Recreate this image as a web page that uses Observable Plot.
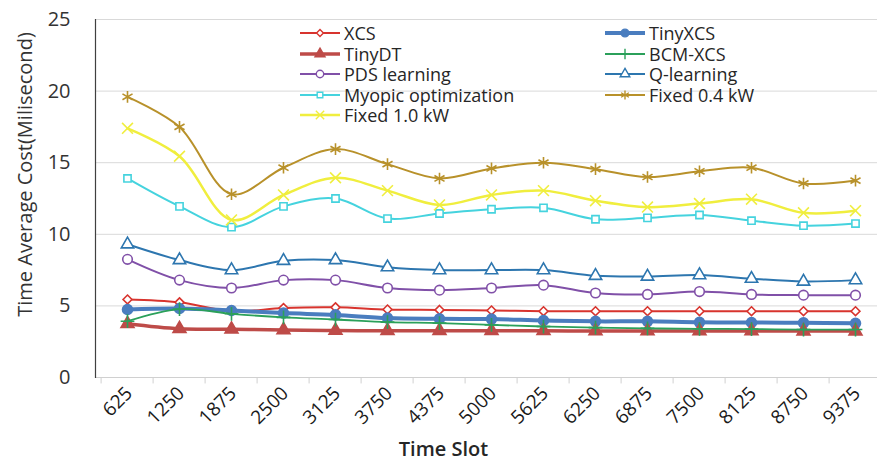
<!DOCTYPE html>
<html>
<head>
<meta charset="utf-8">
<script src="https://cdn.jsdelivr.net/npm/d3@7"></script>
<script src="https://cdn.jsdelivr.net/npm/@observablehq/plot@0.6"></script>
<style>
  html, body { margin: 0; padding: 0; background: #fff; }
  #wrap { position: relative; width: 877px; height: 463px; font-family: "Open Sans", sans-serif; }
  #legend { position: absolute; left: 0; top: 0; pointer-events: none; }
  .item { position: absolute; display: flex; align-items: center; font-size: 18px; line-height: 20px; color: #262626; white-space: nowrap; height: 20px; }
  .item svg { margin-right: 2px; flex: none; }
</style>
</head>
<body>
<div id="wrap"><div id="legend"></div></div>
<script>
const timeSlots = [625, 1250, 1875, 2500, 3125, 3750, 4375, 5000, 5625, 6250, 6875, 7500, 8125, 8750, 9375];
const seriesNames = ["XCS", "TinyXCS", "TinyDT", "BCM-XCS", "PDS learning", "Q-learning", "Myopic optimization", "Fixed 0.4 kW", "Fixed 1.0 kW"];
const xcs       = [5.45, 5.25, 4.63, 4.85, 4.9, 4.75, 4.72, 4.68, 4.63, 4.63, 4.63, 4.63, 4.63, 4.63, 4.63];
const tinyXcs   = [4.75, 4.82, 4.68, 4.5, 4.37, 4.15, 4.1, 4.08, 3.98, 3.92, 3.92, 3.85, 3.84, 3.82, 3.78];
const tinyDt    = [3.75, 3.4, 3.37, 3.32, 3.28, 3.27, 3.27, 3.27, 3.26, 3.25, 3.25, 3.25, 3.25, 3.24, 3.24];
const bcmXcs    = [3.93, 4.78, 4.45, 4.2, 4.05, 3.87, 3.8, 3.67, 3.56, 3.48, 3.43, 3.4, 3.38, 3.35, 3.35];
const pds       = [8.25, 6.8, 6.25, 6.8, 6.8, 6.25, 6.1, 6.25, 6.45, 5.9, 5.8, 6.0, 5.8, 5.75, 5.75];
const qLearning = [9.3, 8.2, 7.5, 8.15, 8.2, 7.7, 7.5, 7.5, 7.5, 7.1, 7.05, 7.15, 6.9, 6.7, 6.8];
const myopic    = [13.9, 11.95, 10.5, 11.95, 12.5, 11.1, 11.45, 11.75, 11.85, 11.05, 11.15, 11.35, 10.95, 10.6, 10.75];
const fixed04   = [19.6, 17.5, 12.8, 14.65, 15.95, 14.9, 13.9, 14.6, 15.0, 14.55, 14.0, 14.4, 14.65, 13.55, 13.75];
const fixed10   = [17.4, 15.45, 11.0, 12.75, 13.95, 13.05, 12.05, 12.75, 13.05, 12.35, 11.9, 12.15, 12.45, 11.5, 11.65];
const seriesValues = [xcs, tinyXcs, tinyDt, bcmXcs, pds, qLearning, myopic, fixed04, fixed10];
const yTicks = [0, 5, 10, 15, 20, 25];

// styles (kept apart from data)
const styles = {
  "XCS":                 {color: "#D8342E", width: 2,   symbol: "diamond2", r: 4,   filled: false},
  "TinyXCS":             {color: "#4A7DBF", width: 4,   symbol: "circle",   r: 5,   filled: true},
  "TinyDT":              {color: "#BE4B48", width: 3.5, symbol: "triangle", r: 4.8, filled: true},
  "BCM-XCS":             {color: "#2BA05A", width: 1.8, symbol: "plus",     r: 4.5, filled: false},
  "PDS learning":        {color: "#8050A8", width: 2,   symbol: "circle",   r: 4.8, filled: false},
  "Q-learning":          {color: "#2D76AF", width: 2,   symbol: "triangle", r: 4.6, filled: false},
  "Myopic optimization": {color: "#45D3DE", width: 2,   symbol: "square2",  r: 4.6, filled: false},
  "Fixed 0.4 kW":        {color: "#B8912A", width: 2,   symbol: "asterisk", r: 5.5, filled: false},
  "Fixed 1.0 kW":        {color: "#F0EE3E", width: 2.5, symbol: "times",    r: 5,   filled: false}
};

const rows = [];
seriesNames.forEach((name, s) => {
  timeSlots.forEach((t, i) => rows.push({series: name, slot: t, value: seriesValues[s][i]}));
});

const xRange = [95, 887];
const step = (xRange[1] - xRange[0]) / timeSlots.length;

const marks = [
  Plot.gridY([5, 10, 15, 20, 25], {stroke: "#d9d9d9", strokeOpacity: 1}),
  Plot.ruleY([0], {stroke: "#d0d0d0"}),
  Plot.ruleX(timeSlots, {x: d => d, y1: 0, y2: -0.45, dx: -step / 2, stroke: "#d0d0d0", clip: false}),
  Plot.frame({anchor: "left", stroke: "#404040", strokeWidth: 1.2}),
  Plot.axisY(yTicks, {tickSize: 0, tickPadding: 25, fontSize: 20, fill: "#333", label: null}),
  Plot.text(timeSlots, {x: d => d, frameAnchor: "bottom", dy: 17, dx: 6, rotate: -45, textAnchor: "end", fontSize: 19, fill: "#1a1a1a", text: d => String(d)}),
  Plot.text(["Time Average Cost(Milisecond)"], {frameAnchor: "left", textAnchor: "middle", dx: -70, dy: -24, rotate: -90, fontSize: 20, fill: "#333"}),
  Plot.text(["Time Slot"], {frameAnchor: "bottom", textAnchor: "middle", dx: -43, dy: 78, fontSize: 20, fontWeight: 600, fill: "#262626"})
];

seriesNames.forEach(name => {
  const st = styles[name];
  const data = rows.filter(r => r.series === name);
  marks.push(Plot.line(data, {x: "slot", y: "value", curve: "catmull-rom", stroke: st.color, strokeWidth: st.width}));
  marks.push(Plot.dot(data, {x: "slot", y: "value", symbol: () => st.symbol, r: st.r,
    stroke: st.color, strokeWidth: 1.6, fill: st.filled ? st.color : "white"}));
});

const chart = Plot.plot({
  width: 877,
  height: 463,
  marginLeft: 95,
  marginRight: 0,
  marginTop: 19,
  marginBottom: 86,
  style: {fontFamily: "'Open Sans', sans-serif", background: "white", overflow: "visible"},
  x: {type: "point", domain: timeSlots, range: xRange, padding: 0.5, align: 0.5, axis: null},
  y: {domain: [0, 25], axis: null},
  symbol: {type: "identity"},
  marks
});
document.getElementById("wrap").prepend(chart);

// legend
const legend = document.getElementById("legend");
const colX = [300, 605];
const rowY = [33, 53.5, 74, 94.5, 115];
const symMap = {diamond2: d3.symbolDiamond2, circle: d3.symbolCircle, triangle: d3.symbolTriangle, plus: d3.symbolPlus,
  square2: d3.symbolSquare2, asterisk: d3.symbolAsterisk, times: d3.symbolTimes};
seriesNames.forEach((name, i) => {
  const st = styles[name];
  const col = i % 2, row = Math.floor(i / 2);
  const div = document.createElement("div");
  div.className = "item";
  div.style.left = colX[col] + "px";
  div.style.top = (rowY[row] - 10) + "px";
  const path = d3.symbol(symMap[st.symbol], Math.PI * st.r * st.r * 0.6)();
  div.innerHTML = `<svg width="42" height="20"><line x1="0" x2="40" y1="10" y2="10" stroke="${st.color}" stroke-width="${st.width}"/>` +
    `<path transform="translate(20,10)" d="${path}" fill="${st.filled ? st.color : 'white'}" stroke="${st.color}" stroke-width="1.4"/></svg>` +
    `<span>${name}</span>`;
  legend.appendChild(div);
});
</script>
</body>
</html>
